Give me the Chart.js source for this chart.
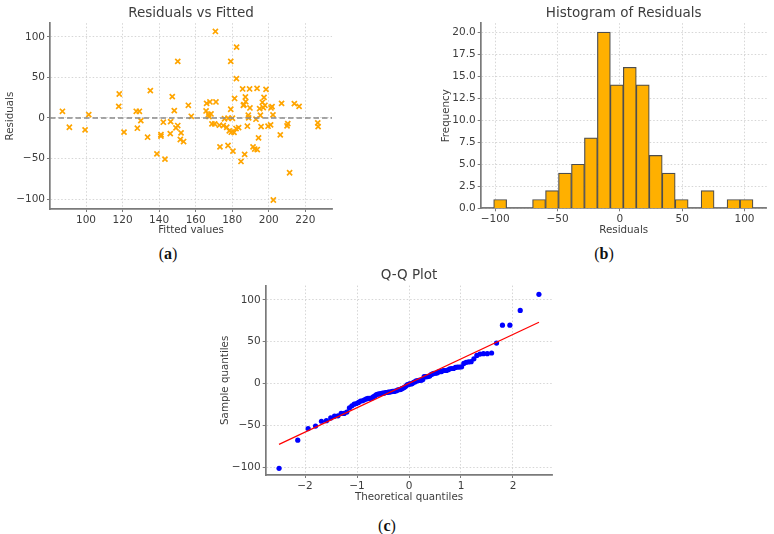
<!DOCTYPE html>
<html>
<head>
<meta charset="utf-8">
<script src="https://cdn.jsdelivr.net/npm/chart.js@4.4.1/dist/chart.umd.min.js"></script>
<style>
  body { margin: 0; background: #fff; width: 774px; height: 534px; position: relative; overflow: hidden; }
  canvas { position: absolute; }
  .cap { position: absolute; transform: translate(-50%, -50%); font-family: "Liberation Serif", serif; font-size: 16px; color: #111; }
  .cap b { font-weight: bold; }
</style>
</head>
<body>
<canvas id="cA" width="345" height="240" style="left:0;top:0"></canvas>
<canvas id="cB" width="384" height="240" style="left:390px;top:0"></canvas>
<canvas id="cC" width="370" height="250" style="left:200px;top:260px"></canvas>
<div class="cap" style="left:168px;top:254px">(<b>a</b>)</div>
<div class="cap" style="left:604px;top:254px">(<b>b</b>)</div>
<div class="cap" style="left:387px;top:526px">(<b>c</b>)</div>
<script>
// residuals vs fitted
const fittedValues = [
  87.1, 90.9, 99.5, 101.5, 118.2, 117.9, 120.8, 127.5, 129.2, 128.1,
  130.0, 135.2, 133.7, 138.8, 141.0, 141.0, 143.2, 142.3, 147.2, 146.3,
  146.1, 148.3, 149.2, 150.2, 150.2, 151.6, 152.0, 153.4, 156.0, 157.6,
  165.7, 166.0, 167.0, 167.3, 168.4, 167.8, 168.9, 170.8, 171.1, 170.4,
  173.0, 173.3, 175.1, 177.0, 177.7, 177.7, 179.2, 179.2, 178.4, 179.5,
  180.4, 180.1, 181.0, 181.3, 182.1, 182.4, 182.3, 184.8, 185.7, 186.1,
  186.4, 187.2, 187.4, 186.8, 188.3, 188.8, 189.0, 189.5, 189.7, 191.4,
  192.3, 193.0, 193.6, 193.7, 194.4, 195.0, 195.4, 195.8, 196.5, 197.4,
  198.5, 197.0, 197.9, 199.6, 201.0, 201.2, 201.8, 202.3, 202.5, 206.3,
  207.0, 210.0, 210.4, 211.4, 214.0, 216.6, 226.8, 227.0, 175.8, 183.5
];
const residuals = [
  8.2, -11.5, -14.8, 4.1, 29.5, 14.3, -17.5, 8.2, 8.2, -12.7,
  -3.3, 33.6, -23.8, -44.3, -20.5, -22.5, -50.8, -5.3, 26.2, -4.5,
  -19.3, 9.0, -12.3, -9.4, 69.7, -26.6, -18.4, -29.1, 15.6, 2.0,
  8.6, 18.0, 4.1, 1.6, 4.9, 19.7, -7.4, 106.6, 19.7, -7.4,
  -9.0, -35.7, -9.4, -11.5, -0.4, -34.0, 69.7, 10.7, -16.0, -17.6,
  -41.0, -0.4, -17.8, 24.0, -13.1, 87.3, 48.4, -53.7, 35.7, 15.6,
  16.5, 25.8, 20.0, -45.0, -10.2, 3.3, 0.0, 35.7, 12.3, -35.7,
  -38.5, -1.6, 36.5, -39.0, -24.6, 11.5, 3.3, -10.7, 19.3, 25.4,
  35.2, 12.7, 15.6, -10.2, -8.6, 12.3, 13.9, 3.7, -101.2, -20.9,
  18.0, -9.8, -7.0, -67.6, 17.6, 14.3, -6.1, -10.7, -1.0, -12.0
];

// histogram of residuals, panel (b)
const binCenters = [-96.0, -85.6, -75.2, -64.8, -54.4, -44.0, -33.6, -23.2, -12.8, -2.4,
  8.0, 18.4, 28.8, 39.2, 49.6, 60.0, 70.4, 80.8, 91.2, 101.6];
const binCounts = [1, 0, 0, 1, 2, 4, 5, 8, 20, 14, 16, 14, 6, 4, 1, 0, 2, 0, 1, 1];

// fitted reference line of the Q-Q plot, panel (c)
const qqLineX = [-2.5, 2.5];
const qqLineY = [-72.6, 73.2];

// tick labels
const aTicksX = [100, 120, 140, 160, 180, 200, 220];
const aTicksY = [-100, -50, 0, 50, 100];
const bTicksX = [-100, -50, 0, 50, 100];
const bTicksY = [0, 2.5, 5, 7.5, 10, 12.5, 15, 17.5, 20];
const cTicksX = [-2, -1, 0, 1, 2];
const cTicksY = [-100, -50, 0, 50, 100];

const txt = '#3d3d3d';
const spine = '#7a7a7a';
const fontFam = 'DejaVu Sans';

const minus = v => String(v).replace('-', '\u2212');

function axis(opts) {
  const isX = opts.pos === 'x';
  return {
    type: 'linear',
    min: opts.min,
    max: opts.max,
    offset: false,
    afterBuildTicks: s => { s.ticks = opts.ticks.map(v => ({ value: v })); },
    afterFit: s => { if (isX) s.height = opts.size; else s.width = opts.size; },
    grid: { offset: false, color: '#cccccc', lineWidth: 0.8, tickLength: 3, tickColor: spine, tickWidth: 1 },
    border: { color: spine, width: 1.7, dash: [1.5, 2] },
    ticks: {
      color: txt, font: { family: fontFam, size: 10.5 }, padding: isX ? 1.5 : 2,
      autoSkip: false, maxRotation: 0, callback: opts.fmt || minus
    },
    title: {
      display: true, text: opts.title, color: txt,
      font: { family: fontFam, size: 10.3 },
      padding: isX ? { top: 0, bottom: opts.tpad } : { top: opts.tpad, bottom: 0 }
    }
  };
}

function titleOpt(text, top, bottom) {
  return {
    display: true, text: text, fullSize: false, color: txt,
    font: { family: fontFam, size: 13.5, weight: 'normal' },
    padding: { top: top, bottom: bottom }
  };
}

const common = { responsive: false, animation: false };
const noLegend = { legend: { display: false }, tooltip: { enabled: false } };

// (a) residuals vs fitted
new Chart(document.getElementById('cA'), {
  type: 'scatter',
  data: {
    datasets: [
      {
        type: 'line',
        data: [{ x: 80.3, y: 0 }, { x: 234.6, y: 0 }],
        borderColor: '#8a8a8a', borderDash: [5.5, 3], borderWidth: 1.5, pointRadius: 0
      },
      {
        data: fittedValues.map((x, i) => ({ x: x, y: residuals[i] })),
        pointStyle: 'crossRot', pointRadius: 3.6, borderWidth: 1.7,
        borderColor: '#ffa500', backgroundColor: '#ffa500'
      }
    ]
  },
  options: {
    ...common,
    layout: { padding: { left: 0, right: 13, top: 0, bottom: 0 } },
    plugins: { ...noLegend, title: titleOpt('Residuals vs Fitted', 5, 2) },
    scales: {
      x: axis({ pos: 'x', min: 80.3, max: 234.6, ticks: aTicksX, size: 31, title: 'Fitted values', tpad: 3 }),
      y: axis({ pos: 'y', min: -112.3, max: 116.8, ticks: aTicksY, size: 50, title: 'Residuals', tpad: 4 })
    }
  }
});

// (b) histogram
new Chart(document.getElementById('cB'), {
  type: 'bar',
  data: {
    datasets: [{
      data: binCenters.map((x, i) => ({ x: x, y: binCounts[i] })),
      backgroundColor: '#ffb000', borderColor: '#4d4d4d', borderWidth: 1.2,
      borderSkipped: 'start', barPercentage: 1, categoryPercentage: 1
    }]
  },
  options: {
    ...common,
    layout: { padding: { left: 47, right: 7.3, top: 0, bottom: 0 } },
    plugins: { ...noLegend, title: titleOpt('Histogram of Residuals', 5, 2) },
    scales: {
      x: axis({ pos: 'x', min: -111.6, max: 117.8, ticks: bTicksX, size: 31.7, title: 'Residuals', tpad: 3 }),
      y: axis({ pos: 'y', min: 0, max: 21, ticks: bTicksY, size: 43.7, title: 'Frequency', tpad: 3.6, fmt: v => v.toFixed(1) })
    }
  }
});

// (c) Q-Q plot: sorted residuals against normal plotting positions
function normPpf(p) {
  const a = [-3.969683028665376e+01, 2.209460984245205e+02, -2.759285104469687e+02, 1.383577518672690e+02, -3.066479806614716e+01, 2.506628277459239e+00];
  const b = [-5.447609879822406e+01, 1.615858368580409e+02, -1.556989798598866e+02, 6.680131188771972e+01, -1.328068155288572e+01];
  const c = [-7.784894002430293e-03, -3.223964580411365e-01, -2.400758277161838e+00, -2.549732539343734e+00, 4.374664141464968e+00, 2.938163982698783e+00];
  const d = [7.784695709041462e-03, 3.224671290700398e-01, 2.445134137142996e+00, 3.754408661907416e+00];
  const lo = 0.02425;
  let q, r;
  if (p < lo) {
    q = Math.sqrt(-2 * Math.log(p));
    return (((((c[0] * q + c[1]) * q + c[2]) * q + c[3]) * q + c[4]) * q + c[5]) / ((((d[0] * q + d[1]) * q + d[2]) * q + d[3]) * q + 1);
  }
  if (p > 1 - lo) return -normPpf(1 - p);
  q = p - 0.5; r = q * q;
  return (((((a[0] * r + a[1]) * r + a[2]) * r + a[3]) * r + a[4]) * r + a[5]) * q / (((((b[0] * r + b[1]) * r + b[2]) * r + b[3]) * r + b[4]) * r + 1);
}
const sampleQuantiles = residuals.slice().sort((m, n) => m - n);
const nRes = sampleQuantiles.length;
const qqPoints = sampleQuantiles.map((y, i) => ({ x: normPpf((i + 1 - 0.375) / (nRes + 0.25)), y: y }));

new Chart(document.getElementById('cC'), {
  type: 'scatter',
  data: {
    datasets: [
      {
        type: 'line',
        data: qqLineX.map((x, i) => ({ x: x, y: qqLineY[i] })),
        borderColor: '#ff0000', borderWidth: 1.2, pointRadius: 0
      },
      {
        data: qqPoints,
        pointStyle: 'circle', pointRadius: 2.6, borderWidth: 0,
        backgroundColor: '#0000ff'
      }
    ]
  },
  options: {
    ...common,
    layout: { padding: { left: 15, right: 17.7, top: 0, bottom: 0 } },
    plugins: { ...noLegend, title: titleOpt('Q-Q Plot', 7.2, 2.2) },
    scales: {
      x: axis({ pos: 'x', min: -2.756, max: 2.756, ticks: cTicksX, size: 35, title: 'Theoretical quantiles', tpad: 6 }),
      y: axis({ pos: 'y', min: -109.2, max: 117, ticks: cTicksY, size: 50.7, title: 'Sample quantiles', tpad: 3.7 })
    }
  }
});
</script>
</body>
</html>
